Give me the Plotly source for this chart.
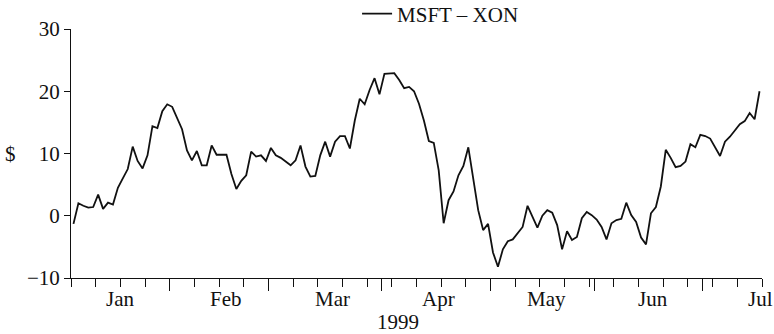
import pandas as pd
import plotly.graph_objects as go

# Daily (weekday) spread between MSFT and XON closing prices, 1999
START = "1999-01-04"
N_DAYS = 140
SPREAD = [
    -1.3, 2.0, 1.6, 1.3, 1.4, 3.4, 1.1, 2.1, 1.8, 4.5,
    6.0, 7.5, 11.1, 8.8, 7.6, 9.7, 14.4, 14.1, 16.8, 17.9,
    17.5, 15.8, 13.9, 10.5, 8.9, 10.4, 8.1, 8.1, 11.3, 9.8,
    9.8, 9.8, 6.7, 4.3, 5.6, 6.5, 10.3, 9.5, 9.7, 8.8,
    10.9, 9.7, 9.3, 8.7, 8.1, 8.9, 11.3, 7.9, 6.3, 6.4,
    9.7, 11.9, 9.5, 11.9, 12.8, 12.8, 10.8, 15.3, 18.8, 17.9,
    20.2, 22.1, 19.5, 22.8, 22.9, 22.9, 21.8, 20.5, 20.7, 20.0,
    18.0, 15.3, 12.0, 11.7, 7.3, -1.2, 2.5, 3.9, 6.5, 8.0,
    11.0, 5.7, 0.9, -2.3, -1.3, -5.9, -8.2, -5.4, -4.1, -3.8,
    -2.8, -1.8, 1.6, -0.2, -1.9, 0.0, 0.9, 0.5, -1.5, -5.4,
    -2.5, -3.9, -3.4, -0.4, 0.6, 0.1, -0.6, -1.8, -3.8, -1.2,
    -0.7, -0.5, 2.1, 0.1, -1.0, -3.5, -4.6, 0.4, 1.4, 4.7,
    10.6, 9.3, 7.8, 8.0, 8.7, 11.5, 11.0, 13.0, 12.8, 12.4,
    11.0, 9.6, 11.9, 12.7, 13.7, 14.7, 15.2, 16.5, 15.5, 20.0,
]
SERIES_NAME = "MSFT \u2013 XON"
MONTHS = ["Jan", "Feb", "Mar", "Apr", "May", "Jun", "Jul"]
YEAR = "1999"
Y_TICKS = [-10, 0, 10, 20, 30]

days = pd.bdate_range(START, periods=N_DAYS)
x_points = days + pd.Timedelta(hours=12)

# first weekday of each month -> long ticks; Mondays -> short ticks
month_starts = days.to_series().groupby([days.year, days.month]).min().tolist()[1:]
week_starts = list(pd.date_range(START, "1999-07-19", freq="W-MON"))

# month names sit near the middle of each month
MONTH_LABEL_AT = [
    "1999-01-15 21:36", "1999-02-16 12:00", "1999-03-18 00:00",
    "1999-04-16 09:36", "1999-05-18 07:12", "1999-06-16 21:36",
    "1999-07-16 14:24",
]

FONT = "Liberation Serif, Times New Roman, serif"
INK = "#111111"

fig = go.Figure()
fig.add_trace(go.Scatter(
    x=x_points, y=SPREAD, mode="lines", name=SERIES_NAME,
    line=dict(color=INK, width=1.8),
))

x_range = ["1999-01-04", "1999-07-19"]
fig.update_layout(
    width=774, height=334,
    margin=dict(l=71, r=12, t=29, b=56, autoexpand=False),
    paper_bgcolor="white", plot_bgcolor="white",
    font=dict(family=FONT, size=21, color=INK),
    showlegend=True,
    legend=dict(x=0.414, y=1.06, xanchor="left", yanchor="middle",
                bgcolor="rgba(0,0,0,0)", font=dict(size=21)),
    xaxis=dict(
        range=x_range,
        rangebreaks=[dict(bounds=["sat", "mon"])],
        tickmode="array", tickvals=month_starts,
        ticks="outside", ticklen=12, tickcolor=INK, tickwidth=1,
        showticklabels=False,
        minor=dict(tickmode="array", tickvals=week_starts, ticks="outside",
                   ticklen=8, tickcolor=INK, tickwidth=1, showgrid=False),
        showline=True, linecolor=INK, linewidth=1,
        showgrid=False, zeroline=False,
    ),
    yaxis=dict(
        range=[-10, 30], tickmode="array", tickvals=Y_TICKS,
        ticktext=["\u221210" if v < 0 else str(v) for v in Y_TICKS],
        ticks="outside", ticklen=6, tickcolor=INK,
        showline=True, linecolor=INK, linewidth=1,
        showgrid=False, zeroline=False,
    ),
)

for name, at in zip(MONTHS, MONTH_LABEL_AT):
    fig.add_annotation(x=at, xref="x", y=0, yref="paper", yanchor="top",
                       yshift=-7, text=name, showarrow=False,
                       font=dict(size=21))

fig.add_annotation(x=0.473, xref="paper", y=-0.178, yref="paper",
                   yanchor="middle", text=YEAR, showarrow=False,
                   font=dict(size=21))
fig.add_annotation(x=-0.088, xref="paper", xanchor="center", y=0.5,
                   yref="paper", text="$", showarrow=False,
                   font=dict(size=21))

fig.write_html("out.html")
